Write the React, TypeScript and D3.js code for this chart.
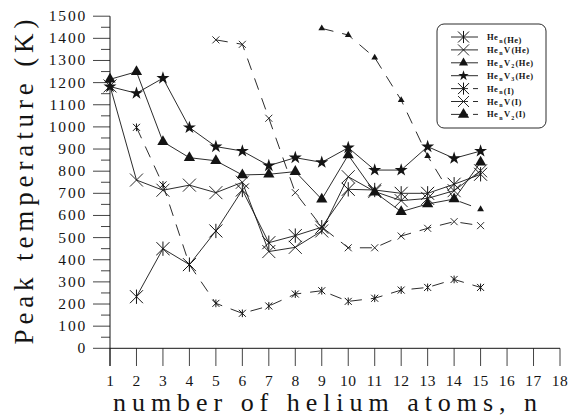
import React from "react";
import * as d3 from "d3";

// n = number of helium atoms
const nAtoms = [1, 2, 3, 4, 5, 6, 7, 8, 9, 10, 11, 12, 13, 14, 15];

// peak temperatures (K), null = no point
const henHe = [null, 233, 450, 378, 530, 715, 477, 509, 547, 718, 715, 700, 700, 741, 786];
const henVHe = [1185, 760, 714, 737, 703, 750, 437, 456, 530, 775, 708, 667, 677, 712, 802];
const henV2He = [1215, 1249, 933, 861, 847, 783, 786, 798, 673, 873, 705, 617, 652, 674, 840];
const henV3He = [1182, 1152, 1220, 997, 911, 891, 825, 861, 840, 906, 805, 805, 911, 858, 891];
const henI = [null, 998, 738, 378, 203, 158, 191, 245, 260, 212, 226, 263, 275, 311, 275];
const henVI = [null, null, null, null, 1393, 1373, 1039, 703, 548, 454, 454, 507, 542, 572, 554];
const henV2I = [null, null, null, null, null, null, null, null, 1445, 1415, 1313, 1121, 868, 672, 628];

const yTicks = [0, 100, 200, 300, 400, 500, 600, 700, 800, 900, 1000, 1100, 1200, 1300, 1400, 1500];
const xTicks = [1, 2, 3, 4, 5, 6, 7, 8, 9, 10, 11, 12, 13, 14, 15, 16, 17, 18];

const series = [
  { sub: "", tail: "(He)", values: henHe, marker: "asterisk", dashed: false, size: 6.5 },
  { sub: "V", tail: "(He)", values: henVHe, marker: "x", dashed: false, size: 6.5 },
  { sub: "V", sub2: "2", tail: "(He)", values: henV2He, marker: "triangle", dashed: false, size: 5 },
  { sub: "V", sub2: "3", tail: "(He)", values: henV3He, marker: "star", dashed: false, size: 5 },
  { sub: "", tail: "(I)", values: henI, marker: "asterisk", dashed: true, size: 3.5 },
  { sub: "V", tail: "(I)", values: henVI, marker: "x", dashed: true, size: 3.5 },
  { sub: "V", sub2: "2", tail: "(I)", values: henV2I, marker: "triangle", dashed: true, size: 3 },
];

const ink = "#141414";
const serif = "'Liberation Serif', 'DejaVu Serif', serif";

function Marker({ kind, x, y, r }: { kind: string; x: number; y: number; r: number }) {
  if (kind === "asterisk") {
    return (
      <path
        d={`M${x - r},${y - r}L${x + r},${y + r}M${x - r},${y + r}L${x + r},${y - r}M${x},${y - r * 1.1}L${x},${y + r * 1.1}`}
        stroke={ink}
        strokeWidth={1}
        fill="none"
      />
    );
  }
  if (kind === "x") {
    return (
      <path
        d={`M${x - r},${y - r}L${x + r},${y + r}M${x - r},${y + r}L${x + r},${y - r}`}
        stroke={ink}
        strokeWidth={0.9}
        fill="none"
      />
    );
  }
  const sym = kind === "star" ? d3.symbolStar : d3.symbolTriangle;
  const area = kind === "star" ? r * r * 2.1 : r * r * 2.2;
  const p = d3.symbol().type(sym).size(area)();
  return <path d={p || ""} transform={`translate(${x},${y})`} fill={ink} />;
}

export default function App() {
  const x = d3.scaleLinear().domain([1, 18]).range([110, 560]);
  const y = d3.scaleLinear().domain([0, 1500]).range([348.3, 16.2]);

  const line = d3
    .line<[number, number | null]>()
    .defined((d) => d[1] != null)
    .x((d) => x(d[0]))
    .y((d) => y(d[1] as number));

  const minor = d3.range(0, 1500, 50).filter((v) => v % 100 !== 0);

  const legendX = 437;
  const legendY = 24;
  const rowY = (i: number) => legendY + 13 + i * 12.9;

  return (
    <svg width={581} height={418} style={{ position: "absolute", left: 0, top: 0, background: "#fff" }}>
      {/* y axis */}
      <line x1={110} x2={110} y1={y(1500)} y2={366} stroke={ink} strokeWidth={1} />
      {yTicks.map((t) => (
        <g key={t}>
          <line x1={93} x2={110} y1={y(t)} y2={y(t)} stroke={ink} strokeWidth={0.8} />
          <text
            x={87}
            y={y(t) + 5}
            textAnchor="end"
            fontFamily={serif}
            fontSize={15.5}
            letterSpacing={1.8}
            fill={ink}
          >
            {t}
          </text>
        </g>
      ))}
      {minor.map((t) => (
        <line key={t} x1={101} x2={110} y1={y(t)} y2={y(t)} stroke={ink} strokeWidth={0.8} />
      ))}

      {/* x axis */}
      <line x1={110} x2={560} y1={y(0)} y2={y(0)} stroke={ink} strokeWidth={1} />
      {xTicks.map((t) => (
        <g key={t}>
          <line x1={x(t)} x2={x(t)} y1={y(0)} y2={366} stroke={ink} strokeWidth={0.8} />
          <text
            x={x(t)}
            y={386}
            textAnchor="middle"
            fontFamily={serif}
            fontSize={15.5}
            letterSpacing={t >= 10 ? 0.5 : 0}
            fill={ink}
          >
            {t}
          </text>
        </g>
      ))}

      {/* axis titles */}
      <text
        x={325}
        y={411}
        textAnchor="middle"
        fontFamily={serif}
        fontSize={26}
        textLength={424}
        lengthAdjust="spacing"
        fill={ink}
      >
        number of helium atoms, n
      </text>
      <text
        transform="translate(33,182) rotate(-90)"
        textAnchor="middle"
        fontFamily={serif}
        fontSize={27}
        textLength={325}
        lengthAdjust="spacing"
        fill={ink}
      >
        Peak temperature (K)
      </text>

      {/* series */}
      {series.map((s, i) => {
        const pts = nAtoms.map((n, j) => [n, s.values[j]] as [number, number | null]);
        return (
          <g key={i}>
            <path
              d={line(pts) || ""}
              fill="none"
              stroke={ink}
              strokeWidth={0.9}
              strokeDasharray={s.dashed ? "12,9" : undefined}
            />
            {pts
              .filter((d) => d[1] != null)
              .map((d) => (
                <Marker key={d[0]} kind={s.marker} x={x(d[0])} y={y(d[1] as number)} r={s.size} />
              ))}
          </g>
        );
      })}

      {/* legend */}
      <rect
        x={legendX}
        y={legendY}
        width={109}
        height={104}
        rx={7}
        fill="#fff"
        stroke={ink}
        strokeWidth={0.9}
      />
      {series.map((s, i) => {
        const ly = rowY(i);
        return (
          <g key={i}>
            {s.dashed ? (
              <>
                <line x1={451} x2={468} y1={ly} y2={ly} stroke={ink} strokeWidth={0.9} />
                <line x1={473} x2={478} y1={ly} y2={ly} stroke={ink} strokeWidth={0.9} />
              </>
            ) : (
              <line x1={451} x2={478} y1={ly} y2={ly} stroke={ink} strokeWidth={0.9} />
            )}
            <Marker kind={s.marker} x={463.5} y={ly} r={s.dashed ? s.size + 2 : s.size - 1} />
            <text
              x={487}
              y={ly + 3}
              fontFamily={serif}
              fontSize={8.5}
              fontWeight="bold"
              letterSpacing={0.5}
              fill={ink}
            >
              He
              <tspan fontSize={6} dx={0.8} dy={2.5}>n</tspan>
              {s.sub ? <tspan dx={1} dy={-2.5}>{s.sub}</tspan> : <tspan dy={-2.5}></tspan>}
              {s.sub2 ? <tspan fontSize={6} dx={0.5} dy={2.5}>{s.sub2}</tspan> : null}
              <tspan dx={0.8} dy={s.sub2 ? -2.5 : 0}>{s.tail}</tspan>
            </text>
          </g>
        );
      })}
    </svg>
  );
}
